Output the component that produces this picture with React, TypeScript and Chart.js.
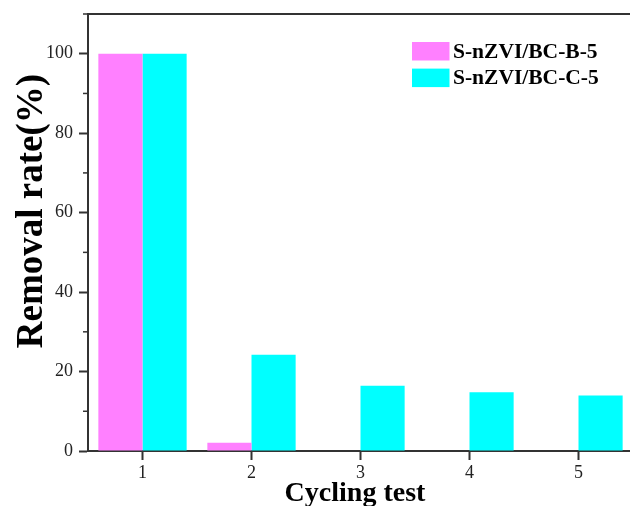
import React, { useEffect, useRef } from 'react';
import { Chart, registerables } from 'chart.js';

Chart.register(...registerables);

const CATEGORIES = ['1', '2', '3', '4', '5'];
const SERIES_B = [100, 2.1, 0, 0, 0];
const SERIES_C = [100, 24.2, 16.4, 14.8, 14.0];
const SERIES_NAMES = ['S-nZVI/BC-B-5', 'S-nZVI/BC-C-5'];
const SERIES_COLORS = ['#FF80FF', '#00FFFF'];
const Y_MIN = 0;
const Y_MAX = 110;
const Y_STEP = 20;
const Y_MINOR_TICKS = [10, 30, 50, 70, 90, 110];
const X_TITLE = 'Cycling test';
const Y_TITLE = 'Removal rate(%)';

const SERIF = '"Liberation Serif", "Times New Roman", serif';
const AXIS_COLOR = '#333';

const extrasPlugin = {
  id: 'extras',
  afterDraw(chart: any) {
    const { ctx, chartArea } = chart;
    const yScale = chart.scales.y;
    ctx.save();
    // top frame line
    ctx.strokeStyle = AXIS_COLOR;
    ctx.lineWidth = 2;
    ctx.beginPath();
    ctx.moveTo(chartArea.left - 1, chartArea.top);
    ctx.lineTo(chartArea.right, chartArea.top);
    ctx.stroke();
    // minor ticks
    ctx.lineWidth = 1.5;
    Y_MINOR_TICKS.forEach((v) => {
      const y = yScale.getPixelForValue(v);
      ctx.beginPath();
      ctx.moveTo(chartArea.left - 5, y);
      ctx.lineTo(chartArea.left, y);
      ctx.stroke();
    });
    // axis titles
    ctx.fillStyle = '#000';
    ctx.font = `bold 28px ${SERIF}`;
    ctx.textAlign = 'center';
    ctx.textBaseline = 'alphabetic';
    ctx.fillText(X_TITLE, chartArea.left + 267, chartArea.bottom + 50);
    ctx.save();
    ctx.translate(42, chartArea.top + 197);
    ctx.rotate(-Math.PI / 2);
    ctx.font = `bold 37px ${SERIF}`;
    ctx.fillText(Y_TITLE, 0, 0);
    ctx.restore();
    // legend
    ctx.font = `bold 21.5px ${SERIF}`;
    ctx.textAlign = 'left';
    chart.data.datasets.forEach((ds: any, i: number) => {
      const bx = chartArea.left + 324;
      const by = chartArea.top + 28 + i * 26.6;
      ctx.fillStyle = ds.backgroundColor;
      ctx.fillRect(bx, by, 37.5, 18.5);
      ctx.fillStyle = '#000';
      ctx.fillText(ds.label, bx + 41, by + 15.6);
    });
    ctx.restore();
  },
};

export default function App() {
  const ref = useRef<HTMLCanvasElement | null>(null);

  useEffect(() => {
    if (!ref.current) return;
    const gridOpts = {
      display: true,
      offset: false,
      drawOnChartArea: false,
      drawTicks: true,
      tickLength: 9,
      tickWidth: 2,
      tickColor: AXIS_COLOR,
      color: AXIS_COLOR,
    };
    const chart = new Chart(ref.current, {
      type: 'bar',
      data: {
        labels: CATEGORIES,
        datasets: [
          { label: SERIES_NAMES[0], data: SERIES_B, backgroundColor: SERIES_COLORS[0], borderWidth: 0 },
          { label: SERIES_NAMES[1], data: SERIES_C, backgroundColor: SERIES_COLORS[1], borderWidth: 0 },
        ],
      },
      options: {
        animation: false,
        responsive: false,
        maintainAspectRatio: false,
        layout: { padding: { top: 14, left: 0, right: 0, bottom: 0 } },
        plugins: { legend: { display: false }, tooltip: { enabled: false } },
        datasets: { bar: { categoryPercentage: 0.81, barPercentage: 1 } },
        scales: {
          x: {
            type: 'category',
            offset: true,
            z: 1,
            grid: gridOpts,
            border: { display: true, color: AXIS_COLOR, width: 2 },
            ticks: { color: '#222', font: { family: SERIF, size: 18 }, padding: 2, maxRotation: 0 },
            afterFit: (s: any) => { s.height = 55; s.paddingLeft = 0; s.paddingRight = 0; },
          },
          y: {
            min: Y_MIN,
            max: Y_MAX,
            z: 1,
            grid: gridOpts,
            border: { display: true, color: AXIS_COLOR, width: 2 },
            ticks: { stepSize: Y_STEP, includeBounds: false, padding: 6, color: '#222', font: { family: SERIF, size: 18 } },
            afterFit: (s: any) => { s.width = 88; s.paddingTop = 0; s.paddingBottom = 0; },
          },
        },
      } as any,
      plugins: [extrasPlugin],
    });
    return () => chart.destroy();
  }, []);

  return (
    <div style={{ position: 'fixed', left: 0, top: 0, width: 630, height: 506, overflow: 'hidden', background: '#fff' }}>
      <canvas ref={ref} width={633} height={506} style={{ display: 'block', width: 633, height: 506 }} />
    </div>
  );
}
